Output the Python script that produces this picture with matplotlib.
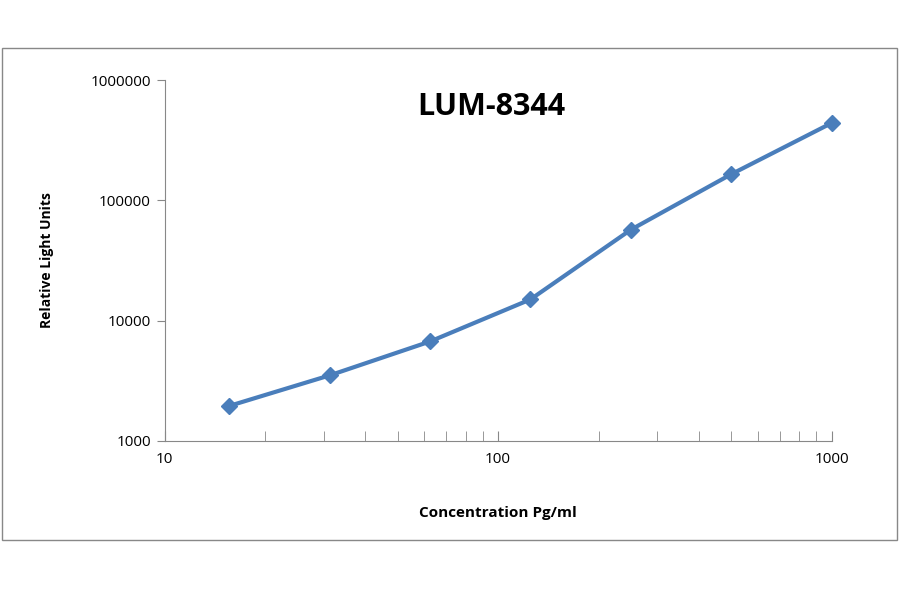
import matplotlib.pyplot as plt
from matplotlib.patches import Rectangle
from matplotlib.ticker import LogLocator, NullFormatter, FixedLocator

plt.rcParams["font.family"] = ["Open Sans", "DejaVu Sans"]

conc = [15.625, 31.25, 62.5, 125, 250, 500, 1000]
rlu = [1950, 3500, 6700, 15000, 57000, 165000, 440000]
x_ticks = [10, 100, 1000]
y_ticks = [1000, 10000, 100000, 1000000]

fig = plt.figure(figsize=(9, 5.94), dpi=100)
fig.patches.append(Rectangle((0.002, 0.091), 0.995, 0.828, transform=fig.transFigure,
                             fill=False, edgecolor="#888888", linewidth=1))
ax = fig.add_axes([0.183, 0.258, 0.741, 0.607])

ax.plot(conc, rlu, color="#4A7EBB", linewidth=3, marker="D", markersize=8,
        markerfacecolor="#4A7EBB", markeredgecolor="#4A7EBB", clip_on=False)
ax.set_xscale("log")
ax.set_yscale("log")
ax.set_xlim(10, 1000)
ax.set_ylim(1000, 1000000)

ax.xaxis.set_major_locator(FixedLocator(x_ticks))
ax.yaxis.set_major_locator(FixedLocator(y_ticks))
ax.set_xticklabels([str(v) for v in x_ticks], fontsize=11)
ax.set_yticklabels([str(v) for v in y_ticks], fontsize=11)
ax.xaxis.set_minor_locator(LogLocator(base=10, subs=range(2, 10)))
ax.xaxis.set_minor_formatter(NullFormatter())
ax.yaxis.set_minor_locator(FixedLocator([]))

for s in ["top", "right"]:
    ax.spines[s].set_visible(False)
for s in ["left", "bottom"]:
    ax.spines[s].set_color("#888888")
ax.tick_params(axis="x", which="both", direction="in", color="#888888", length=7, pad=8)
ax.tick_params(axis="y", which="both", direction="out", color="#888888", length=6, pad=4)

ax.set_title("LUM-8344", fontsize=22, fontweight="bold", x=0.49, y=0.88)
ax.set_xlabel("Concentration Pg/ml", fontsize=11, fontweight="bold", labelpad=28)
ax.set_ylabel("Relative Light Units", fontsize=10, fontweight="bold", labelpad=26)

fig.savefig("out.png", dpi=100)
